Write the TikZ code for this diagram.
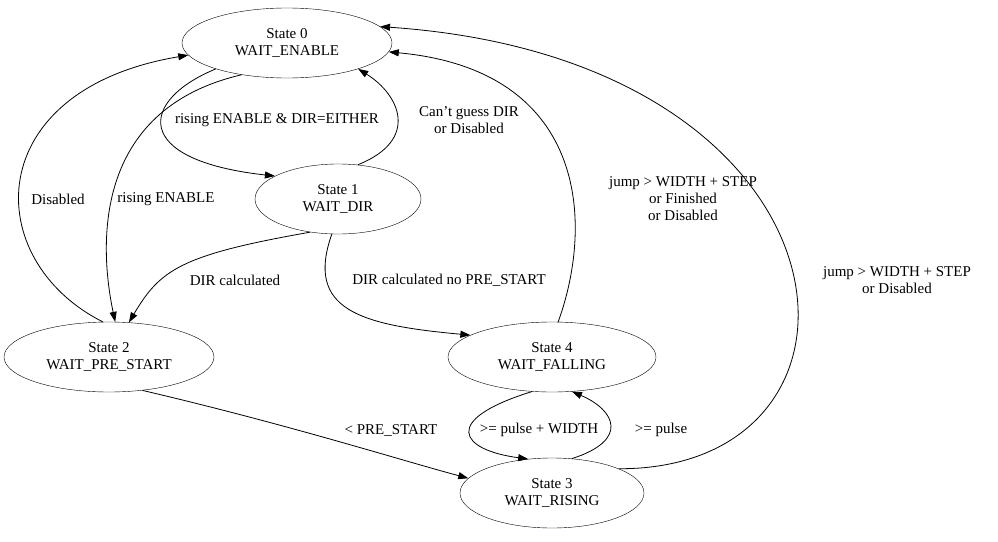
\documentclass[tikz,border=0pt]{standalone}
\usepackage{fontspec}
\setmainfont{Liberation Serif}
\usetikzlibrary{shapes.geometric,arrows.meta}
\begin{document}
\begin{tikzpicture}[x=1pt,y=-1pt,
  st/.style={ellipse,draw,minimum width=210pt,minimum height=70pt,inner sep=0pt,align=center,font=\fontsize{15}{17}\selectfont},
  lb/.style={align=center,font=\fontsize{15}{17}\selectfont},
  e/.style={-{Triangle[length=10pt,width=7pt]},line width=0.8pt}]
\useasboundingbox (0,0) rectangle (998,541);
\node[st] (s0) at (287,43) {State 0\\WAIT\_ENABLE};
\node[st,minimum width=166pt] (s1) at (338,199) {State 1\\WAIT\_DIR};
\node[st] (s2) at (109,357) {State 2\\WAIT\_PRE\_START};
\node[st,minimum width=208pt] (s4) at (552,357) {State 4\\WAIT\_FALLING};
\node[st,minimum width=184pt] (s3) at (552,493) {State 3\\WAIT\_RISING};
\draw[e] (s0.200) .. controls (140,100) and (130,160) .. (s1.160);
\node[lb] (l1) at (277,120) {rising ENABLE \& DIR=EITHER};
\draw[e] (s1.60) .. controls (420,140) and (400,95) .. (s0.-20);
\node[lb] (l2) at (469,120) {Can't guess DIR\\or Disabled};
\draw[e] (s0.215) .. controls (90,110) and (100,250) .. (s2.80);
\node[lb] (l3) at (166,199) {rising ENABLE};
\draw[e] (s2.100) .. controls (-20,260) and (-20,90) .. (s0.187);
\node[lb] (l4) at (58,199) {Disabled};
\draw[e] (s1.230) .. controls (180,255) and (160,270) .. (s2.60);
\node[lb] (l5) at (235,280) {DIR calculated};
\draw[e] (s1.260) .. controls (305,310) and (360,325) .. (s4.165);
\node[lb] (l6) at (449,280) {DIR calculated no PRE\_START};
\draw[e] (s4.80) .. controls (595,220) and (585,70) .. (s0.-5);
\node[lb] (l7) at (683,199) {jump > WIDTH + STEP\\or Finished\\or Disabled};
\draw[e] (s3.20) .. controls (900,470) and (870,60) .. (s0.10);
\node[lb] (l8) at (897,280) {jump > WIDTH + STEP\\or Disabled};
\draw[e] (s2.-45) .. controls (290,425) and (400,460) .. (s3.170);
\node[lb] (l9) at (391,430) {< PRE\_START};
\draw[e] (s4.-120) .. controls (440,420) and (460,450) .. (s3.125);
\node[lb] (l10) at (539,430) {>= pulse + WIDTH};
\draw[e] (s3.60) .. controls (630,440) and (615,410) .. (s4.-60);
\node[lb] (l11) at (661,430) {>= pulse};
\end{tikzpicture}
\end{document}
